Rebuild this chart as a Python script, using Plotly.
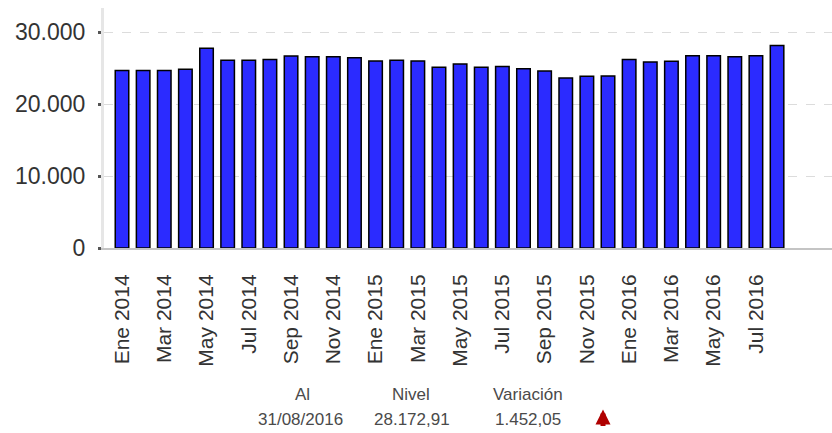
import plotly.graph_objects as go

months_es = ["Ene", "Feb", "Mar", "Abr", "May", "Jun", "Jul", "Ago", "Sep", "Oct", "Nov", "Dic"]
categories = [f"{m} {y}" for y in (2014, 2015, 2016) for m in months_es][:32]

values = [24667, 24667, 24667, 24861, 27778, 26111, 26111, 26199,
          26708, 26611, 26611, 26472, 26014, 26111, 26014, 25139,
          25597, 25139, 25227, 24944, 24625, 23653, 23889, 23931,
          26199, 25875, 25972, 26750, 26750, 26611, 26721, 28173]

tick_idx = list(range(0, 32, 2))
tick_text = [categories[i] for i in tick_idx]

y_tickvals = [0, 10000, 20000, 30000]
y_ticktext = ["0", "10.000", "20.000", "30.000"]

footer_head = ["Al", "Nivel", "Variación"]
footer_vals = ["31/08/2016", "28.172,91", "1.452,05"]

x = list(range(len(values)))

fig = go.Figure()
fig.add_trace(go.Bar(
    x=x, y=values, width=0.64,
    marker=dict(color="#2b2bff", line=dict(color="#000000", width=1.5)),
    showlegend=False,
))

W, H = 832, 433
L, R, T, B = 104, 0, 8, 184.7
PW, PH = W - L - R, H - T - B

def px(xp):
    return (xp - L) / PW

def py(yp):
    return (H - B - yp) / PH

fig.update_layout(
    width=W, height=H,
    margin=dict(l=L, r=R, t=T, b=B, pad=0, autoexpand=False),
    plot_bgcolor="white", paper_bgcolor="white",
    font=dict(family="Liberation Sans, Arial, sans-serif", color="#333333"),
    xaxis=dict(
        range=[-0.852, 33.6],
        tickmode="array", tickvals=tick_idx, ticktext=tick_text,
        tickangle=-90, tickfont=dict(size=21, color="#333333"),
        showgrid=False, zeroline=False,
        showline=True, linecolor="#c4c4c4", linewidth=2,
        ticks="", ticklabelstandoff=16,
    ),
    yaxis=dict(
        range=[0, 33375],
        tickmode="array", tickvals=y_tickvals, ticktext=y_ticktext,
        tickfont=dict(size=23, color="#333333"),
        showgrid=True, gridcolor="#dcdcdc", griddash="dash", gridwidth=1,
        zeroline=False,
        showline=True, linecolor="#e6e6e6", linewidth=3,
        ticks="outside", ticklen=3, tickwidth=3, tickcolor="#555555",
        ticklabelstandoff=8,
    ),
    bargap=0.3,
)

ffont = dict(family="Liberation Sans, Arial, sans-serif", size=17, color="#4a4a4a")
for xs, h in zip([302, 411, 528], footer_head):
    fig.add_annotation(xref="paper", yref="paper", x=px(xs), y=py(395),
                       text=h, showarrow=False, xanchor="center", yanchor="middle",
                       font=ffont)
for xs, v in zip([300, 412, 528], footer_vals):
    fig.add_annotation(xref="paper", yref="paper", x=px(xs), y=py(420),
                       text=v, showarrow=False, xanchor="center", yanchor="middle",
                       font=ffont)

# red up arrow indicator
fig.add_annotation(xref="paper", yref="paper", x=px(603), y=py(410),
                   ax=0, ay=18, text="", showarrow=True,
                   arrowhead=2, arrowsize=0.6, arrowwidth=5, arrowcolor="#b00000")

fig.write_html("out.html", config={"displayModeBar": False},
               post_script="document.body.style.margin='0';document.body.style.overflow='hidden';")
